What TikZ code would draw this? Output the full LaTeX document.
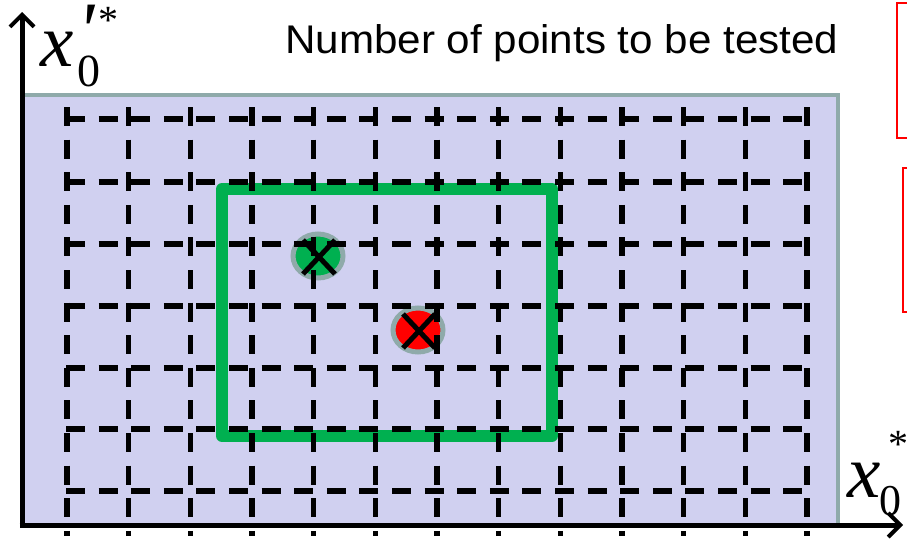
\documentclass[tikz,border=0pt]{standalone}
\usepackage{fontspec}
\setmainfont{Liberation Serif}
\newfontfamily\arialf{Liberation Sans}
\usetikzlibrary{arrows.meta,calc}
\definecolor{lav}{RGB}{208,208,240}
\definecolor{edgegrey}{RGB}{143,170,170}
\definecolor{grn}{RGB}{0,176,80}
\definecolor{rd}{RGB}{255,0,0}
\tikzset{
  gridline/.style={line width=5.5pt, black, dash pattern=on 19pt off 13.6pt},
  axisline/.style={line width=5pt, black, -{Straight Barb[length=12pt,width=24pt,line width=4pt]}},
  marker/.style={line width=5pt, edgegrey},
  crossline/.style={line width=5pt, black},
  redbox/.style={line width=2pt, rd},
  lbl/.style={inner sep=0pt, anchor=base west},
}
\begin{document}
\begin{tikzpicture}[x=1pt,y=-1pt]
\useasboundingbox (0,0) rectangle (907,538);
\clip (0,0) rectangle (907,538);
% background region
\draw[fill=lav, draw=edgegrey, line width=4pt] (22,95) rectangle (838,525);
% green region
\draw[grn, line width=12pt, line join=round] (222,189) rectangle (552,436);
% points
\draw[marker, fill=grn] (318,256) ellipse [x radius=25, y radius=22];
\draw[marker, fill=rd] (418,330) ellipse [x radius=25, y radius=22];
% grid
\foreach \i in {0,...,12}
  \draw[gridline] ({67+61.67*\i},107) -- ({67+61.67*\i},536);
\foreach \y in {119,182,244,306,368,429,491}
  \draw[gridline] (66,\y) -- (810,\y);
% crosses
\coordinate (g) at (319,257);
\coordinate (r) at (419,331);
\draw[crossline] ($(g)+(-16,-17)$) -- ($(g)+(16,17)$);
\draw[crossline] ($(g)+(-16,17)$) -- ($(g)+(16,-17)$);
\draw[crossline] ($(r)+(-16,-17)$) -- ($(r)+(16,17)$);
\draw[crossline] ($(r)+(-16,17)$) -- ($(r)+(16,-17)$);
% axes
\coordinate (o) at (22,525);
\coordinate (ytip) at (22,12);
\coordinate (xtip) at (903,525);
\draw[axisline] ($(o)+(0,2.5)$) -- (ytip);
\draw[axisline] ($(o)+(-2.5,0)$) -- (xtip);
% labels
\node[lbl, font=\arialf\fontsize{40}{40}\selectfont] (title) at (285,53) {\scalebox{1.054}[1]{Number of points to be tested}};
\node[lbl, font=\fontsize{75}{75}\selectfont\itshape] (yx) at (40,66) {x};
\node[lbl, font=\fontsize{46}{46}\selectfont] (y0) at (77,86) {0};
\node[inner sep=0pt, anchor=base west, font=\fontsize{80}{80}\selectfont\itshape] (yp) at (77,57) {\textquotesingle};
\node[inner sep=0pt, font=\fontsize{40}{40}\selectfont] (ys) at (108.5,20) {*};
\node[lbl, font=\fontsize{75}{75}\selectfont\itshape] (xx) at (847,497) {x};
\node[lbl, font=\fontsize{44}{44}\selectfont] (x0) at (879,515) {0};
\node[inner sep=0pt, font=\fontsize{40}{40}\selectfont] (xs) at (898,444) {*};
% red boxes
\draw[redbox] (897,3) rectangle (930,138);
\draw[redbox] (903,168) rectangle (930,312);
\end{tikzpicture}
\end{document}
